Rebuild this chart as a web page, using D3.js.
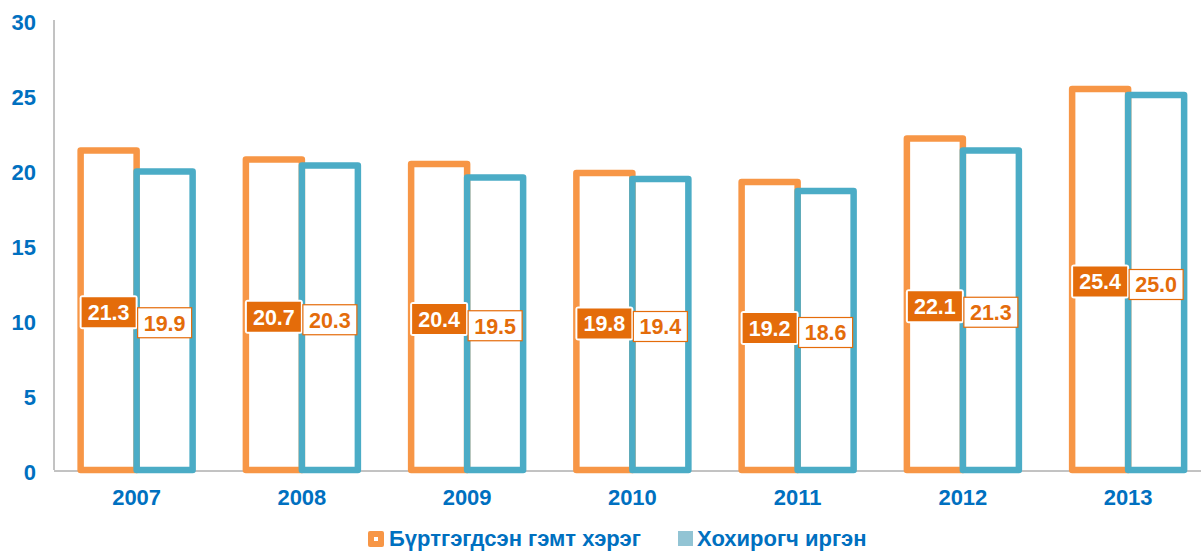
<!DOCTYPE html>
<html>
<head>
<meta charset="utf-8">
<script src="https://cdn.jsdelivr.net/npm/d3@7"></script>
<style>
  body { margin: 0; background: #fff; }
  svg { display: block; font-family: Arial, "Liberation Sans", sans-serif; }
</style>
</head>
<body>
<div id="chart"></div>
<script>
let years = ["2007", "2008", "2009", "2010", "2011", "2012", "2013"];
let crimes = [21.3, 20.7, 20.4, 19.8, 19.2, 22.1, 25.4];
let victims = [19.9, 20.3, 19.5, 19.4, 18.6, 21.3, 25.0];
let seriesNames = ["Бүртгэгдсэн гэмт хэрэг", "Хохирогч иргэн"];
let yTicks = [0, 5, 10, 15, 20, 25, 30];

let width = 1201, height = 551;
let blue = "#0070C0";
let orange = "#F79646", teal = "#4BACC6", dark = "#E46C0A";

let svg = d3.select("#chart").append("svg")
    .attr("width", width)
    .attr("height", height);

let x = d3.scaleBand().domain(years).range([54, 54 + 7 * 165.25]);
let x1 = d3.scaleBand().domain([0, 1]).range([0, 112]);
let y = d3.scaleLinear().domain([0, 30]).range([470, 20]);

// axes
svg.append("line")
    .attr("x1", 54).attr("x2", 54)
    .attr("y1", y(30)).attr("y2", y(0))
    .attr("stroke", "#868686").attr("stroke-width", 1);
svg.append("line")
    .attr("x1", 54).attr("x2", width)
    .attr("y1", y(0) + 1).attr("y2", y(0) + 1)
    .attr("stroke", "#868686").attr("stroke-width", 1);

svg.selectAll(".ytick")
    .data(yTicks)
    .enter().append("text")
    .attr("class", "ytick")
    .attr("x", 36)
    .attr("y", d => y(d) + 2)
    .attr("dy", "0.35em")
    .attr("text-anchor", "end")
    .attr("font-size", 22)
    .attr("font-weight", "bold")
    .attr("fill", blue)
    .text(d => d);

svg.selectAll(".xtick")
    .data(years)
    .enter().append("text")
    .attr("class", "xtick")
    .attr("x", d => x(d) + x.bandwidth() / 2)
    .attr("y", 505)
    .attr("text-anchor", "middle")
    .attr("font-size", 22)
    .attr("font-weight", "bold")
    .attr("fill", blue)
    .text(d => d);

// bars
let series = [crimes, victims];
let colors = [orange, teal];
let groupOffset = (x.bandwidth() - 112) / 2;

series.forEach(function (vals, s) {
    svg.selectAll(".bar" + s)
        .data(vals)
        .enter().append("rect")
        .attr("class", "bar" + s)
        .attr("x", (d, i) => x(years[i]) + groupOffset + x1(s))
        .attr("y", d => y(d))
        .attr("width", x1.bandwidth())
        .attr("height", d => y(0) - y(d))
        .attr("fill", "none")
        .attr("stroke", colors[s])
        .attr("stroke-width", 6.5)
        .attr("stroke-linejoin", "round");
});

// value labels
series.forEach(function (vals, s) {
    let g = svg.selectAll(".lab" + s)
        .data(vals)
        .enter().append("g")
        .attr("class", "lab" + s)
        .attr("transform", function (d, i) {
            let cx = x(years[i]) + groupOffset + x1(s) + x1.bandwidth() / 2;
            let cy = (y(0) + y(d)) / 2 + 2;
            return "translate(" + cx + "," + cy + ")";
        });
    if (s === 0) {
        g.append("rect")
            .attr("x", -29).attr("y", -17)
            .attr("width", 58).attr("height", 34)
            .attr("rx", 3)
            .attr("fill", "#fff");
        g.append("rect")
            .attr("x", -27).attr("y", -15)
            .attr("width", 54).attr("height", 30)
            .attr("fill", dark);
    } else {
        g.append("rect")
            .attr("x", -27).attr("y", -15)
            .attr("width", 54).attr("height", 30)
            .attr("fill", "#fff")
            .attr("stroke", dark)
            .attr("stroke-width", 1.2);
    }
    g.append("text")
        .attr("text-anchor", "middle")
        .attr("dy", "0.36em")
        .attr("font-size", 21.5)
        .attr("font-weight", "bold")
        .attr("fill", s === 0 ? "#fff" : dark)
        .text(d => d.toFixed(1));
});

// legend
let legend = svg.append("g");
legend.append("rect")
    .attr("x", 368).attr("y", 531).attr("width", 16).attr("height", 16)
    .attr("rx", 2).attr("fill", orange);
legend.append("rect")
    .attr("x", 374).attr("y", 537).attr("width", 4).attr("height", 4)
    .attr("fill", "#fff");
legend.append("text")
    .attr("x", 389).attr("y", 546)
    .attr("font-size", 22).attr("font-weight", "bold").attr("fill", blue)
    .text(seriesNames[0]);
legend.append("rect")
    .attr("x", 678).attr("y", 531).attr("width", 15).attr("height", 15)
    .attr("fill", "#92C4D4");
legend.append("text")
    .attr("x", 697).attr("y", 546)
    .attr("font-size", 22).attr("font-weight", "bold").attr("fill", blue)
    .text(seriesNames[1]);
</script>
</body>
</html>
